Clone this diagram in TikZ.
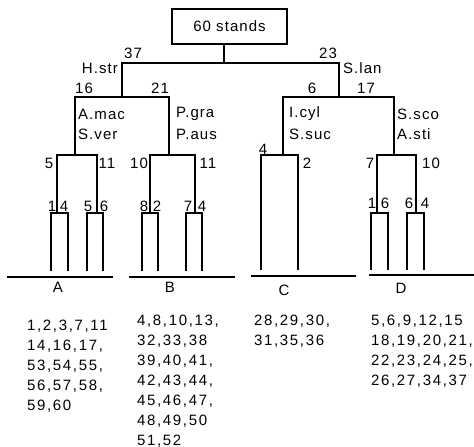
\documentclass[tikz,border=0pt]{standalone}
\usepackage{fontspec}
\setmainfont{Liberation Sans}[LetterSpace=7]
\newfontfamily\listfont{Liberation Sans}[LetterSpace=11]
\begin{document}
\begin{tikzpicture}[x=1pt,y=-1pt,
  tree/.style={line width=2.6pt, line join=miter},
  base/.style={line width=2.2pt},
  lbl/.style={inner sep=0pt, font=\fontsize{15}{20}\selectfont},
  lst/.style={inner sep=0pt, align=left, anchor=north west, font=\listfont\fontsize{15}{20}\selectfont},
  box/.style={draw, line width=2.2pt, minimum width=115pt, minimum height=35pt, inner sep=0pt, font=\fontsize{15}{20}\selectfont}]
\useasboundingbox[fill=white] (0,0) rectangle (474,447);
% root
\node[box] (root) at (229.5,26.5) {60 stands};
% junction coordinates
\coordinate (top) at (224,63);
\coordinate (h37) at (122,63);  \coordinate (h23) at (339,63);
\coordinate (h16) at (75,97);   \coordinate (h21) at (169,97);
\coordinate (h6) at (283,97);   \coordinate (h17) at (394,97);
\coordinate (a5) at (57,155);   \coordinate (a11) at (97,155);
\coordinate (b10) at (150,155); \coordinate (b11) at (195,155);
\coordinate (c4) at (261,155);  \coordinate (c2) at (298,155);
\coordinate (d7) at (377,155);  \coordinate (d10) at (416,155);
\coordinate (aa1) at (51,213);  \coordinate (aa4) at (68,213);
\coordinate (aa5) at (87,213);  \coordinate (aa6) at (103,213);
\coordinate (bb8) at (142,213); \coordinate (bb2) at (158,213);
\coordinate (bb7) at (186,213); \coordinate (bb4) at (202,213);
\coordinate (dd1) at (371,213); \coordinate (dd6) at (388,213);
\coordinate (dd6b) at (407,213);\coordinate (dd4) at (424,213);
\coordinate (botA) at (0,271);  \coordinate (botC) at (0,270);
% tree
\draw[tree] (root.south -| top) -- (top);
\draw[tree] (h37 |- h16) -- (h37) -- (h23) -- (h23 |- h17);
\draw[tree] (h16 |- a5) -- (h16) -- (h21) -- (h21 |- b10);
\draw[tree] (h6 |- c4) -- (h6) -- (h17) -- (h17 |- d7);
\draw[tree] (a5 |- aa1) -- (a5) -- (a11) -- (a11 |- aa5);
\draw[tree] (b10 |- bb8) -- (b10) -- (b11) -- (b11 |- bb7);
\draw[tree] (c4 |- botC) -- (c4) -- (c2) -- (c2 |- botC);
\draw[tree] (d7 |- dd1) -- (d7) -- (d10) -- (d10 |- dd6b);
\draw[tree] (aa1 |- botA) -- (aa1) -- (aa4) -- (aa4 |- botA);
\draw[tree] (aa5 |- botA) -- (aa5) -- (aa6) -- (aa6 |- botA);
\draw[tree] (bb8 |- botA) -- (bb8) -- (bb2) -- (bb2 |- botA);
\draw[tree] (bb7 |- botA) -- (bb7) -- (bb4) -- (bb4 |- botA);
\draw[tree] (dd1 |- botC) -- (dd1) -- (dd6) -- (dd6 |- botC);
\draw[tree] (dd6b |- botC) -- (dd6b) -- (dd4) -- (dd4 |- botC);
% group baselines
\coordinate (A1) at (7,277);   \coordinate (A2) at (113,277);
\coordinate (B1) at (129,277); \coordinate (B2) at (235,277);
\coordinate (C1) at (251,276); \coordinate (C2) at (356,276);
\coordinate (D1) at (369,275); \coordinate (D2) at (474,275);
\draw[base] (A1) -- (A2);
\draw[base] (B1) -- (B2);
\draw[base] (C1) -- (C2);
\draw[base] (D1) -- (D2);
% split labels
\node[lbl] (l37) at (133,53) {37};
\node[lbl] (l23) at (328,53) {23};
\node[lbl, anchor=east] (lhstr) at (118,68) {H.str};
\node[lbl, anchor=west] (lslan) at (343,68) {S.lan};
\node[lbl] (l16) at (84,88) {16};
\node[lbl] (l21) at (160,88) {21};
\node[lbl] (l6) at (312,88) {6};
\node[lbl] (l17) at (366,88) {17};
\node[lbl, anchor=west] (lamac) at (78,114) {A.mac};
\node[lbl, anchor=west] (lsver) at (78,134) {S.ver};
\node[lbl, anchor=west] (lpgra) at (176,114) {P.gra};
\node[lbl, anchor=west] (lpaus) at (176,134) {P.aus};
\node[lbl, anchor=west] (licyl) at (289,114) {I.cyl};
\node[lbl, anchor=west] (lssuc) at (289,134) {S.suc};
\node[lbl, anchor=west] (lssco) at (397,114) {S.sco};
\node[lbl, anchor=west] (lasti) at (397,134) {A.sti};
\node[lbl] (la5) at (49,163) {5};
\node[lbl] (la11) at (107,163) {11};
\node[lbl] (lb10) at (139,163) {10};
\node[lbl] (lb11) at (208,163) {11};
\node[lbl] (lc4) at (263,149) {4};
\node[lbl] (lc2) at (307,163) {2};
\node[lbl] (ld7) at (370,163) {7};
\node[lbl] (ld10) at (431,163) {10};
\node[lbl] (laa1) at (52,206) {1};
\node[lbl] (laa4) at (64,206) {4};
\node[lbl] (laa5) at (88,206) {5};
\node[lbl] (laa6) at (104,206) {6};
\node[lbl] (lbb8) at (144,206) {8};
\node[lbl] (lbb2) at (157,206) {2};
\node[lbl] (lbb7) at (188,206) {7};
\node[lbl] (lbb4) at (202,206) {4};
\node[lbl] (ldd1) at (372,203) {1};
\node[lbl] (ldd6) at (385,203) {6};
\node[lbl] (ldd6b) at (409,203) {6};
\node[lbl] (ldd4) at (425,203) {4};
% group letters
\node[lbl] (gA) at (58,287) {A};
\node[lbl] (gB) at (170,287) {B};
\node[lbl] (gC) at (284,290) {C};
\node[lbl] (gD) at (401,288) {D};
% stand lists
\node[lst] (listA) at (27,319.6) {1,2,3,7,11\\14,16,17,\\53,54,55,\\56,57,58,\\59,60};
\node[lst] (listB) at (137,314.6) {4,8,10,13,\\32,33,38\\39,40,41,\\42,43,44,\\45,46,47,\\48,49,50\\51,52};
\node[lst] (listC) at (254,314.6) {28,29,30,\\31,35,36};
\node[lst] (listD) at (371,314.6) {5,6,9,12,15\\18,19,20,21,\\22,23,24,25,\\26,27,34,37};
\end{tikzpicture}
\end{document}
